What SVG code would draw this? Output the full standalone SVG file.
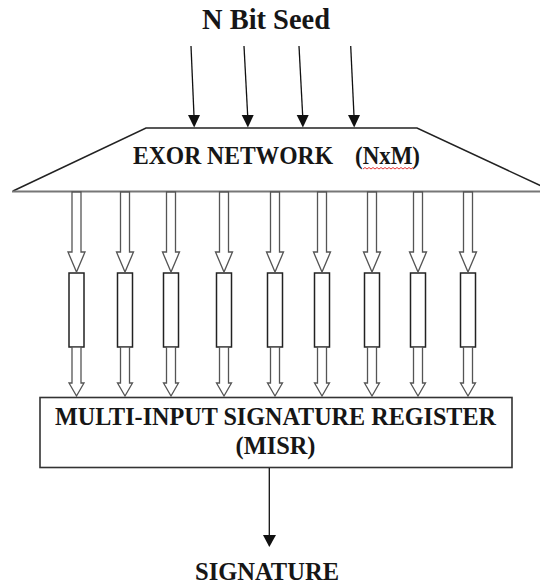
<svg xmlns="http://www.w3.org/2000/svg" xmlns:xlink="http://www.w3.org/1999/xlink" width="540" height="586" viewBox="0 0 540 586">
<style>
  .t { font-family: "Liberation Serif", "Times New Roman", serif; font-weight: bold; fill: #161616; }
  .blk { fill: #fff; stroke: #555; stroke-width: 1.3; stroke-linejoin: miter; }
  .cell { fill: #fff; stroke: #222; stroke-width: 1.5; }
  .thin { stroke: #111; stroke-width: 1.3; fill: none; }
  .head { fill: #111; stroke: none; }
</style>
<defs>
  <polygon id="upA" class="blk" points="-4.5,192 -4.5,252 -8.5,252 0,272 8.5,252 4.5,252 4.5,192"/>
  <polygon id="loA" class="blk" points="-4.5,347 -4.5,383 -7.5,383 0,396 7.5,383 4.5,383 4.5,347"/>
  <rect id="cellR" class="cell" x="-7.5" y="273" width="15" height="74"/>
</defs>
<rect width="540" height="586" fill="#fff"/>

<g id="title">
  <text class="t" x="266" y="28.5" font-size="28.5" text-anchor="middle" textLength="128" lengthAdjust="spacingAndGlyphs">N Bit Seed</text>
</g>

<g id="exor">
  <polyline points="13,191 146,128 417,128 552,191" fill="#fff" stroke="#222" stroke-width="1.5" stroke-linejoin="miter"/>
  <line x1="12" y1="191.5" x2="540" y2="191.5" stroke="#777" stroke-width="2.2"/>
  <text class="t" x="133" y="164" font-size="25.5" textLength="200" lengthAdjust="spacingAndGlyphs">EXOR NETWORK</text>
  <text class="t" x="355" y="164" font-size="25.5" textLength="65" lengthAdjust="spacingAndGlyphs">(NxM)</text>
  <polyline points="363,169 365,167.5 367,169 369,167.5 371,169 373,167.5 375,169 377,167.5 379,169 381,167.5 383,169 385,167.5 387,169 389,167.5 391,169 393,167.5 395,169 397,167.5 399,169 401,167.5 403,169 405,167.5 407,169 409,167.5 411,169 413,167.5" fill="none" stroke="#e02020" stroke-width="0.9"/>
</g>

<g id="cell1" transform="translate(76.5,0)"><use xlink:href="#cellR"/></g>
<g id="cell2" transform="translate(125,0)"><use xlink:href="#cellR"/></g>
<g id="cell3" transform="translate(171,0)"><use xlink:href="#cellR"/></g>
<g id="cell4" transform="translate(224,0)"><use xlink:href="#cellR"/></g>
<g id="cell5" transform="translate(275,0)"><use xlink:href="#cellR"/></g>
<g id="cell6" transform="translate(322,0)"><use xlink:href="#cellR"/></g>
<g id="cell7" transform="translate(372,0)"><use xlink:href="#cellR"/></g>
<g id="cell8" transform="translate(418,0)"><use xlink:href="#cellR"/></g>
<g id="cell9" transform="translate(468,0)"><use xlink:href="#cellR"/></g>

<g id="misr">
  <rect x="40" y="397.5" width="472" height="70" fill="#fff" stroke="#333" stroke-width="1.6"/>
  <text class="t" x="275.5" y="425" font-size="25.5" text-anchor="middle" textLength="441" lengthAdjust="spacingAndGlyphs">MULTI-INPUT SIGNATURE REGISTER</text>
  <text class="t" x="275.5" y="454" font-size="25.5" text-anchor="middle" textLength="80" lengthAdjust="spacingAndGlyphs">(MISR)</text>
</g>

<g id="signature">
  <text class="t" x="267" y="580" font-size="26" text-anchor="middle" textLength="144" lengthAdjust="spacingAndGlyphs">SIGNATURE</text>
</g>

<g id="connectors">
  <line class="thin" x1="191" y1="46" x2="194" y2="116"/>
  <polygon class="head" points="188,115 200,115 194.2,127.5"/>
  <line class="thin" x1="244" y1="46" x2="247.7" y2="116"/>
  <polygon class="head" points="241.7,115 253.7,115 247.9,127.5"/>
  <line class="thin" x1="299" y1="46" x2="302.7" y2="116"/>
  <polygon class="head" points="296.7,115 308.7,115 302.9,127.5"/>
  <line class="thin" x1="350.7" y1="46" x2="354" y2="116"/>
  <polygon class="head" points="348,115 360,115 354.2,127.5"/>

  <g transform="translate(76.5,0)"><use xlink:href="#upA"/><use xlink:href="#loA"/></g>
  <g transform="translate(125,0)"><use xlink:href="#upA"/><use xlink:href="#loA"/></g>
  <g transform="translate(171,0)"><use xlink:href="#upA"/><use xlink:href="#loA"/></g>
  <g transform="translate(224,0)"><use xlink:href="#upA"/><use xlink:href="#loA"/></g>
  <g transform="translate(275,0)"><use xlink:href="#upA"/><use xlink:href="#loA"/></g>
  <g transform="translate(322,0)"><use xlink:href="#upA"/><use xlink:href="#loA"/></g>
  <g transform="translate(372,0)"><use xlink:href="#upA"/><use xlink:href="#loA"/></g>
  <g transform="translate(418,0)"><use xlink:href="#upA"/><use xlink:href="#loA"/></g>
  <g transform="translate(468,0)"><use xlink:href="#upA"/><use xlink:href="#loA"/></g>

  <line class="thin" x1="269.3" y1="468" x2="269.3" y2="536" stroke-width="1.6"/>
  <polygon class="head" points="263,535 276,535 269.3,547"/>
</g>
</svg>
